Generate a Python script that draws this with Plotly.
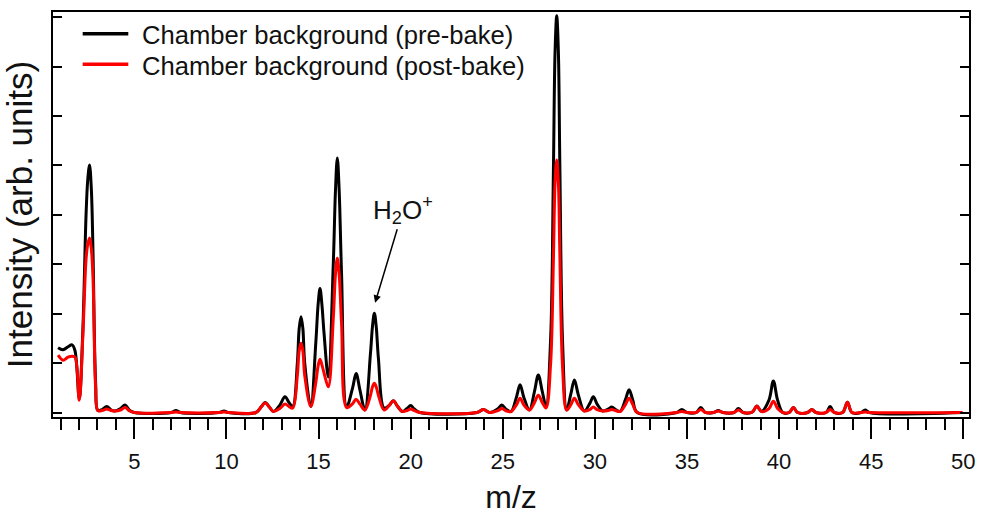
import plotly.graph_objects as go

# m/z sample positions (peak centres, flanks and valleys)
mz = [
    0.86, 1.13, 1.40, 1.62, 1.78,
    2.01, 2.20, 2.38, 2.47, 2.57, 2.67, 2.76, 2.90, 3.02,
    3.25, 3.50, 3.75, 3.95, 4.25, 4.50, 4.75, 5.00,
    7.00, 7.26, 7.50, 9.60, 9.87, 10.10, 11.60,
    11.90, 12.10, 12.35, 12.55, 12.90, 13.18, 13.40, 13.60,
    13.85, 13.95, 14.05, 14.15, 14.25, 14.58,
    14.85, 14.98, 15.08, 15.18, 15.30, 15.53,
    15.80, 15.92, 16.02, 16.12, 16.25, 16.53,
    16.85, 17.04, 17.25, 17.52,
    17.82, 17.93, 18.03, 18.13, 18.25, 18.56,
    18.85, 19.06, 19.28, 19.55, 19.80, 20.00, 20.20, 20.50,
    23.60, 23.95, 24.30, 24.75, 24.95, 25.20, 25.45,
    25.75, 25.94, 26.15, 26.45, 26.72, 26.93, 27.15, 27.35,
    27.60, 27.75, 27.84, 27.93, 28.02, 28.10, 28.25, 28.47,
    28.70, 28.89, 29.10, 29.43, 29.72, 29.92, 30.12, 30.43,
    30.72, 30.92, 31.12, 31.37, 31.66, 31.86, 32.06, 32.30,
    34.45, 34.72, 35.00, 35.50, 35.75, 36.00, 36.45, 36.70, 36.95,
    37.55, 37.79, 38.05, 38.55, 38.79, 39.05, 39.45, 39.69, 39.92, 40.20,
    40.55, 40.78, 41.00, 41.55, 41.78, 42.00, 42.55, 42.77, 43.00,
    43.45, 43.71, 43.95, 44.45, 44.67, 44.90, 49.95,
]

# Chamber background (pre-bake), arbitrary units
pre_bake = [
    1.31, 1.27, 1.33, 1.37, 1.25,
    0.28, 1.60, 4.00, 4.70, 5.01, 4.50, 3.20, 0.60, 0.04,
    0.06, 0.12, 0.05, 0.03, 0.08, 0.15, 0.04, 0.00,
    0.00, 0.04, 0.00, 0.00, 0.03, 0.00, 0.00,
    0.12, 0.20, 0.10, 0.02, 0.15, 0.32, 0.20, 0.12,
    1.00, 1.70, 1.94, 1.70, 1.00, 0.12,
    1.40, 2.20, 2.51, 2.20, 1.60, 0.72,
    3.00, 4.50, 5.15, 4.50, 2.80, 0.12,
    0.50, 0.79, 0.45, 0.05,
    1.20, 1.75, 2.01, 1.75, 1.10, 0.09,
    0.15, 0.24, 0.13, 0.02, 0.08, 0.14, 0.07, 0.00,
    0.00, 0.06, 0.00, 0.08, 0.15, 0.06, 0.02,
    0.32, 0.56, 0.30, 0.05, 0.42, 0.76, 0.42, 0.12,
    1.50, 4.90, 7.30, 8.03, 7.30, 5.00, 1.40, 0.05,
    0.38, 0.66, 0.36, 0.03, 0.18, 0.32, 0.17, 0.03,
    0.07, 0.11, 0.06, 0.02, 0.26, 0.46, 0.25, 0.00,
    0.00, 0.06, 0.00, 0.00, 0.10, 0.00, 0.00, 0.04, 0.00,
    0.00, 0.08, 0.00, 0.01, 0.13, 0.02, 0.25, 0.64, 0.25, 0.00,
    0.00, 0.10, 0.00, 0.00, 0.06, 0.00, 0.00, 0.12, 0.00,
    0.00, 0.21, 0.00, 0.00, 0.05, 0.00, 0.00,
]

# Chamber background (post-bake), arbitrary units
post_bake = [
    1.16, 1.06, 1.12, 1.14, 1.12,
    0.25, 1.50, 3.10, 3.40, 3.53, 3.30, 2.70, 0.50, 0.04,
    0.04, 0.07, 0.04, 0.03, 0.05, 0.10, 0.03, 0.00,
    0.00, 0.01, 0.00, 0.00, 0.01, 0.00, 0.00,
    0.12, 0.19, 0.10, 0.02, 0.08, 0.17, 0.12, 0.09,
    0.75, 1.25, 1.40, 1.25, 0.75, 0.12,
    0.60, 0.95, 1.08, 0.97, 0.80, 0.52,
    1.90, 2.80, 3.12, 2.80, 1.80, 0.10,
    0.18, 0.27, 0.17, 0.05,
    0.35, 0.52, 0.59, 0.52, 0.35, 0.05,
    0.15, 0.24, 0.13, 0.02, 0.04, 0.07, 0.04, 0.00,
    0.00, 0.06, 0.00, 0.04, 0.08, 0.03, 0.02,
    0.16, 0.29, 0.15, 0.05, 0.20, 0.35, 0.20, 0.09,
    1.00, 3.10, 4.65, 5.11, 4.65, 3.20, 0.90, 0.05,
    0.16, 0.29, 0.16, 0.03, 0.06, 0.11, 0.06, 0.03,
    0.04, 0.06, 0.04, 0.02, 0.16, 0.29, 0.16, 0.00,
    0.00, 0.02, 0.00, 0.00, 0.06, 0.00, 0.00, 0.03, 0.00,
    0.00, 0.05, 0.00, 0.01, 0.13, 0.02, 0.08, 0.23, 0.08, 0.00,
    0.00, 0.10, 0.00, 0.00, 0.06, 0.00, 0.00, 0.06, 0.00,
    0.00, 0.21, 0.00, 0.00, 0.01, 0.00, 0.00,
]

assert len(mz) == len(pre_bake) == len(post_bake)

series_names = ["Chamber background (pre-bake)", "Chamber background (post-bake)"]
series_colors = ["#000000", "#ff0000"]

# H2O+ annotation target (m/z, intensity)
h2o_mz = 18.07
h2o_int = 2.22

FONT = "Liberation Sans, Arial, Helvetica, sans-serif"

fig = go.Figure()
for yvals, name, col in zip([pre_bake, post_bake], series_names, series_colors):
    fig.add_trace(go.Scatter(
        x=mz, y=yvals, mode="lines", name=name,
        line=dict(color=col, width=3, shape="spline", smoothing=1.0),
        showlegend=False,
    ))

# Hand-placed legend (tight row spacing as in the original)
leg_y = [0.9464, 0.8709]
for name, col, yy in zip(series_names, series_colors, leg_y):
    fig.add_shape(type="line", xref="paper", yref="paper",
                  x0=0.0324, x1=0.0822, y0=yy, y1=yy,
                  line=dict(color=col, width=3.5))
    fig.add_annotation(xref="paper", yref="paper", x=0.095, y=yy - 0.003,
                       xanchor="left", yanchor="middle", showarrow=False,
                       text=name, font=dict(family=FONT, size=25.6, color="#111111"))

fig.add_annotation(
    x=h2o_mz, y=h2o_int, xref="x", yref="y",
    text="H<sub>2</sub>O<sup>+</sup>",
    showarrow=True, arrowhead=2, arrowsize=1, arrowwidth=1.5, arrowcolor="#000000",
    ax=28, ay=-93, standoff=0,
    font=dict(family=FONT, size=26, color="#111111"),
)

fig.update_layout(
    width=981, height=515,
    margin=dict(l=53, r=12, t=12, b=98, autoexpand=False),
    plot_bgcolor="white", paper_bgcolor="white",
    font=dict(family=FONT, color="#111111"),
    showlegend=False,
)

fig.update_xaxes(
    range=[0.586, 50.31], automargin=False,
    tickmode="linear", tick0=0, dtick=5,
    ticks="outside", ticklen=20, tickwidth=2, tickcolor="black",
    ticklabelstandoff=4,
    minor=dict(tick0=0, dtick=1, ticks="outside", ticklen=11, tickwidth=2,
               tickcolor="black", showgrid=False),
    showline=True, linewidth=2, linecolor="black", mirror=True,
    showgrid=False, zeroline=False,
    tickfont=dict(family=FONT, size=22, color="#111111"),
    title=dict(text="m/z", font=dict(family=FONT, size=32, color="#111111"), standoff=16),
)

fig.update_yaxes(
    range=[-0.091, 8.107], automargin=False,
    tickmode="linear", tick0=0, dtick=1,
    ticks="inside", ticklen=9, tickwidth=2, tickcolor="black",
    showticklabels=False,
    showline=True, linewidth=2, linecolor="black", mirror="ticks",
    showgrid=False, zeroline=False,
    title=dict(text="Intensity (arb. units)", font=dict(family=FONT, size=35, color="#111111"),
               standoff=12),
)

fig.write_html("out.html")
